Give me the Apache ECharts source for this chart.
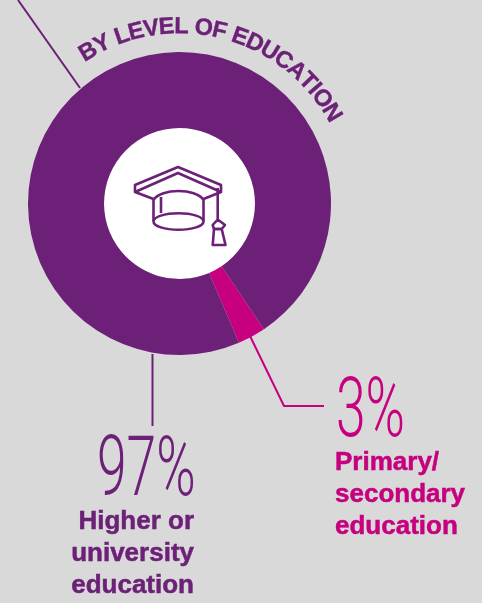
<!DOCTYPE html>
<html>
<head>
<meta charset="utf-8">
<style>html,body{margin:0;padding:0;background:#d9d9d9}#c{width:482px;height:603px}</style>
<script src="https://cdn.jsdelivr.net/npm/echarts@6/dist/echarts.min.js"></script>
</head>
<body>
<div id="c"></div>
<script>
// Education split of the donut
const categories = ['Primary/\nsecondary\neducation', 'Higher or\nuniversity\neducation'];
const shares = [3, 97];
const colours = ['#c6007e', '#6c2077'];
const arcTitle = 'BY LEVEL OF EDUCATION';

const cx = 179.5, cy = 203.5, rOuter = 151.5, rInner = 75.5;
const boldFont = '"Liberation Sans", Arial, sans-serif';
const thinFont = 'Roboto, sans-serif';
// Text is centred on its em box; this is the drop from there to the baseline
const baselineDrop = 0.25;

// Lay the title out letter by letter along a circle above the ring
function arcLetters(text, radius, startDeg, size, tracking) {
  const ctx = document.createElement('canvas').getContext('2d');
  ctx.font = 'bold ' + size + 'px ' + boldFont;
  const centreRadius = radius + baselineDrop * size;
  let a = startDeg * Math.PI / 180;
  return text.split('').map(function (ch) {
    const w = ctx.measureText(ch).width * tracking;
    const mid = a + w / 2 / radius;
    a += w / radius;
    return {
      type: 'text',
      x: cx + centreRadius * Math.sin(mid),
      y: cy - centreRadius * Math.cos(mid),
      rotation: -mid,
      style: { text: ch, x: 0, y: 0, fill: colours[1], stroke: colours[1], lineWidth: 0.4,
        font: 'bold ' + size + 'px ' + boldFont, align: 'center', verticalAlign: 'middle' }
    };
  });
}

// One text element per line so the baselines can be set exactly
function labelLines(text, x, firstBaseline, gap, align, colour) {
  const size = 26;
  return text.split('\n').map(function (line, i) {
    return {
      type: 'text', x: x, y: firstBaseline + i * gap - baselineDrop * size,
      style: { text: line, x: 0, y: 0, fill: colour, stroke: colour, lineWidth: 0.5,
        font: 'bold ' + size + 'px ' + boldFont, align: align, verticalAlign: 'middle' }
    };
  });
}

function bigNumber(value, x, baseline, colour) {
  const size = 84;
  return {
    type: 'text', x: x, y: baseline - 0.27 * size, scaleX: 0.635,
    style: { text: value + '%', x: 0, y: 0, fill: colour,
      font: '300 ' + size + 'px ' + thinFont, align: 'left', verticalAlign: 'middle' }
  };
}

function leader(points, colour) {
  return { type: 'polyline', shape: { points: points },
    style: { stroke: colour, lineWidth: 2, fill: null } };
}

// Mortarboard drawn as thin strokes inside the white hole
const ink = { stroke: colours[1], lineWidth: 2.6, fill: null, lineJoin: 'round' };
const capIcon = [
  { type: 'polyline', shape: { points: [[153.5, 199], [135, 192], [135, 185], [178, 167], [221, 185], [221, 192], [203.5, 199]] }, style: ink },
  { type: 'polyline', shape: { points: [[135, 192], [178, 173], [221, 192]] }, style: ink },
  { type: 'bezierCurve', shape: { x1: 153.5, y1: 200, x2: 203.5, y2: 200, cpx1: 161, cpy1: 188, cpx2: 196, cpy2: 188 }, style: ink },
  { type: 'line', shape: { x1: 153.5, y1: 200, x2: 153.5, y2: 221 }, style: ink },
  { type: 'line', shape: { x1: 203.5, y1: 200, x2: 203.5, y2: 221 }, style: ink },
  { type: 'line', shape: { x1: 161, y1: 197, x2: 161, y2: 213 }, style: ink },
  { type: 'ellipse', shape: { cx: 178.5, cy: 221.5, rx: 25, ry: 8.3 }, style: ink },
  { type: 'line', shape: { x1: 217.7, y1: 188, x2: 217.7, y2: 219 }, style: ink },
  { type: 'polygon', shape: { points: [[217.7, 219.5], [225, 225], [221.7, 229], [214, 229], [212.7, 225]] }, style: ink },
  { type: 'polygon', shape: { points: [[214, 229], [221.7, 229], [225.5, 245], [212.7, 245]] }, style: ink }
];

const chart = echarts.init(document.getElementById('c'), null, { renderer: 'canvas' });
chart.setOption({
  backgroundColor: '#d9d9d9',
  animation: false,
  series: [
    {
      type: 'pie', silent: true, center: [cx, cy], radius: [0, rInner], z: 1,
      label: { show: false }, labelLine: { show: false },
      data: [{ value: 1, itemStyle: { color: '#ffffff' } }]
    },
    {
      type: 'pie', silent: true, center: [cx, cy], radius: [rInner, rOuter], startAngle: -56.1,
      clockwise: true, z: 2,
      label: { show: false }, labelLine: { show: false },
      data: shares.map(function (v, i) {
        return { name: categories[i], value: v, itemStyle: { color: colours[i] } };
      })
    }
  ],
  graphic: { elements: [].concat(
    arcLetters(arcTitle, 170.9, -33.7, 23.5, 0.95),
    [
      leader([[18, 0], [80, 88]], colours[1]),
      leader([[152.5, 354], [152.5, 426]], colours[1]),
      leader([[250, 336], [284, 406], [324, 406]], colours[0])
    ],
    bigNumber(shares[1], 97, 497, colours[1]),
    bigNumber(shares[0], 336, 437.5, colours[0]),
    labelLines(categories[1], 194, 528.5, 31.7, 'right', colours[1]),
    labelLines(categories[0], 335, 469.5, 32, 'left', colours[0]),
    capIcon
  ).map(function (el) { return Object.assign({ z: 10 }, el); }) }
});
</script>
</body>
</html>
